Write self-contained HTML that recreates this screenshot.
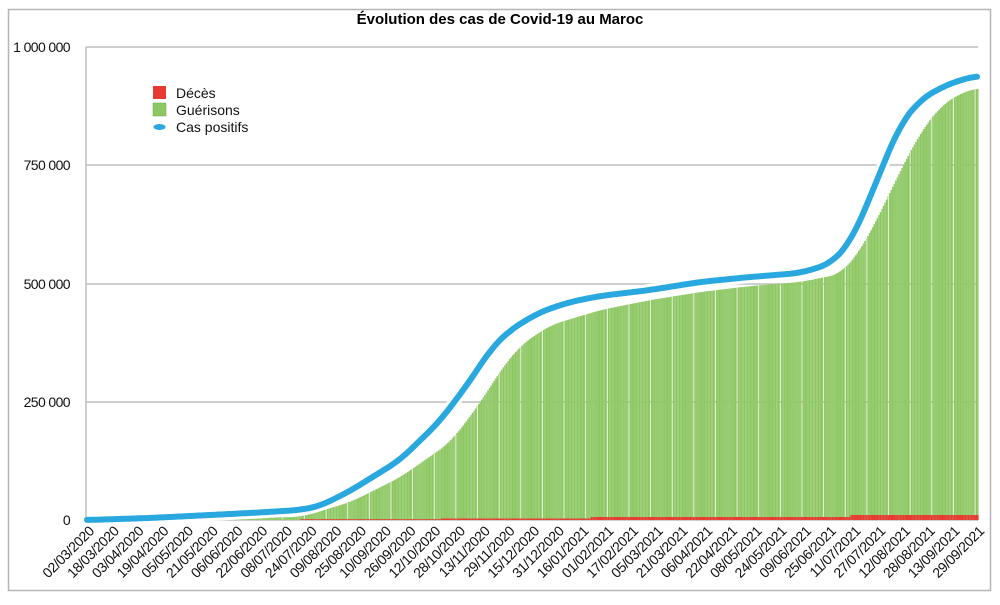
<!DOCTYPE html>
<html><head><meta charset="utf-8"><style>
body{margin:0;background:#fff;width:1000px;height:600px;overflow:hidden;font-family:"Liberation Sans",sans-serif}
</style></head><body>
<svg id="s" width="1000" height="600" xmlns="http://www.w3.org/2000/svg" font-family="Liberation Sans, sans-serif">
<rect x="8.5" y="9.5" width="982" height="581" fill="none" stroke="#b5b5b5" stroke-width="1.5"/>
<text x="500" y="24" text-anchor="middle" font-size="15" font-weight="bold">Évolution des cas de Covid-19 au Maroc</text>
<g stroke="#bdbdbd" stroke-width="1.5">
<line x1="86" y1="47" x2="978" y2="47"/><line x1="86" y1="165" x2="978" y2="165"/>
<line x1="86" y1="284" x2="978" y2="284"/><line x1="86" y1="402" x2="978" y2="402"/>
<line x1="86" y1="520" x2="978" y2="520"/><line x1="86" y1="47" x2="86" y2="520"/>
</g>
<g font-size="14" text-anchor="end" fill="#111" letter-spacing="-0.6">
<text x="70" y="52">1 000 000</text><text x="70" y="170">750 000</text><text x="70" y="289">500 000</text><text x="70" y="407">250 000</text><text x="70" y="525">0</text>
</g>
<g id="bars"></g>
<g id="lbl" font-size="14" fill="#111" letter-spacing="-0.4"></g>
<rect x="153" y="86" width="13" height="13" fill="#e83a33"/>
<rect x="153" y="103" width="13" height="13" fill="#8cc763" stroke="#6fae44" stroke-width="0.5"/>
<ellipse cx="159.5" cy="127" rx="6" ry="3" fill="#29a8e0"/>
<g font-size="14" fill="#111"><text x="176" y="98">Décès</text><text x="176" y="115">Guérisons</text><text x="176" y="132">Cas positifs</text></g>
</svg>
<script>
function lin(p,x){for(let i=1;i<p.length;i++){if(x<=p[i][0]){const a=p[i-1],b=p[i];const t=(x-a[0])/(b[0]-a[0]);return a[1]+(b[1]-a[1])*t;}}return p[p.length-1][1];}
function smooth(p,x){let s=0,n=0;for(let k=-12;k<=12;k++){const xx=Math.min(977,Math.max(87,x+k));s+=lin(p,xx);n++;}return s/n;}
const cas=[[87,520],[150,518],[250,513],[300,510],[320,506],[350,491],[400,460],[440,421],[470,381],[490,350],[510,330],[540,312],[570,302],[600,296],[650,290],[700,282],[750,277],[800,273],[830,264],[850,243],[870,198],[885,160],[900,125],[920,100],[940,88],[960,80],[977,76]];
const rec=[[87,520],[300,517],[350,502],[400,477],[450,442],[480,402],[500,370],[520,345],[550,325],[600,310],[650,300],[700,292],[750,286],[800,282],[840,274],[860,250],[880,212],[900,170],[920,132],[940,106],[960,93],[977,88]];
const N=576,x0=87,x1=977;let h='';
for(let d=0;d<=N;d++){const x=x0+(x1-x0)*d/N;const w=(x1-x0)/N;
 const gap=(d%14==0)?0.8:0;
 const y=smooth(rec,x);h+=`<rect x="${x.toFixed(2)}" y="${y.toFixed(1)}" width="${(w-gap+0.05).toFixed(2)}" height="${(520-y).toFixed(1)}" fill="${d%2?'#8cc763':'#97cc6e'}"/>`;
 let dy=0;if(x>300)dy=0.8;if(x>440)dy=1.5;if(x>590)dy=3;if(x>850)dy=5;
 if(dy)h+=`<rect x="${x.toFixed(2)}" y="${(520-dy).toFixed(1)}" width="${(w+0.05).toFixed(2)}" height="${dy}" fill="#e83a33"/>`;}
let pts=[];for(let x=x0;x<=x1;x+=2)pts.push(x+','+smooth(cas,x).toFixed(1));pts.push(x1+','+smooth(cas,x1).toFixed(1));
h+=`<polyline points="${pts.join(' ')}" fill="none" stroke="#fff" stroke-width="12" stroke-linejoin="round"/>`;
h+=`<polyline points="${pts.join(' ')}" fill="none" stroke="#29a8e0" stroke-width="6" stroke-linejoin="round" stroke-linecap="round"/>`;
document.getElementById('bars').innerHTML=h;
let l='';const st=new Date(Date.UTC(2020,2,2));
for(let i=0;i<=36;i++){const dt=new Date(st.getTime()+i*16*864e5);
 const s=String(dt.getUTCDate()).padStart(2,'0')+'/'+String(dt.getUTCMonth()+1).padStart(2,'0')+'/'+dt.getUTCFullYear();
 const x=x0+(x1-x0)*i*16/N+8;l+=`<text x="${x.toFixed(1)}" y="532" text-anchor="end" transform="rotate(-45 ${x.toFixed(1)} 532)">${s}</text>`;}
document.getElementById('lbl').innerHTML=l;
</script>
</body></html>
